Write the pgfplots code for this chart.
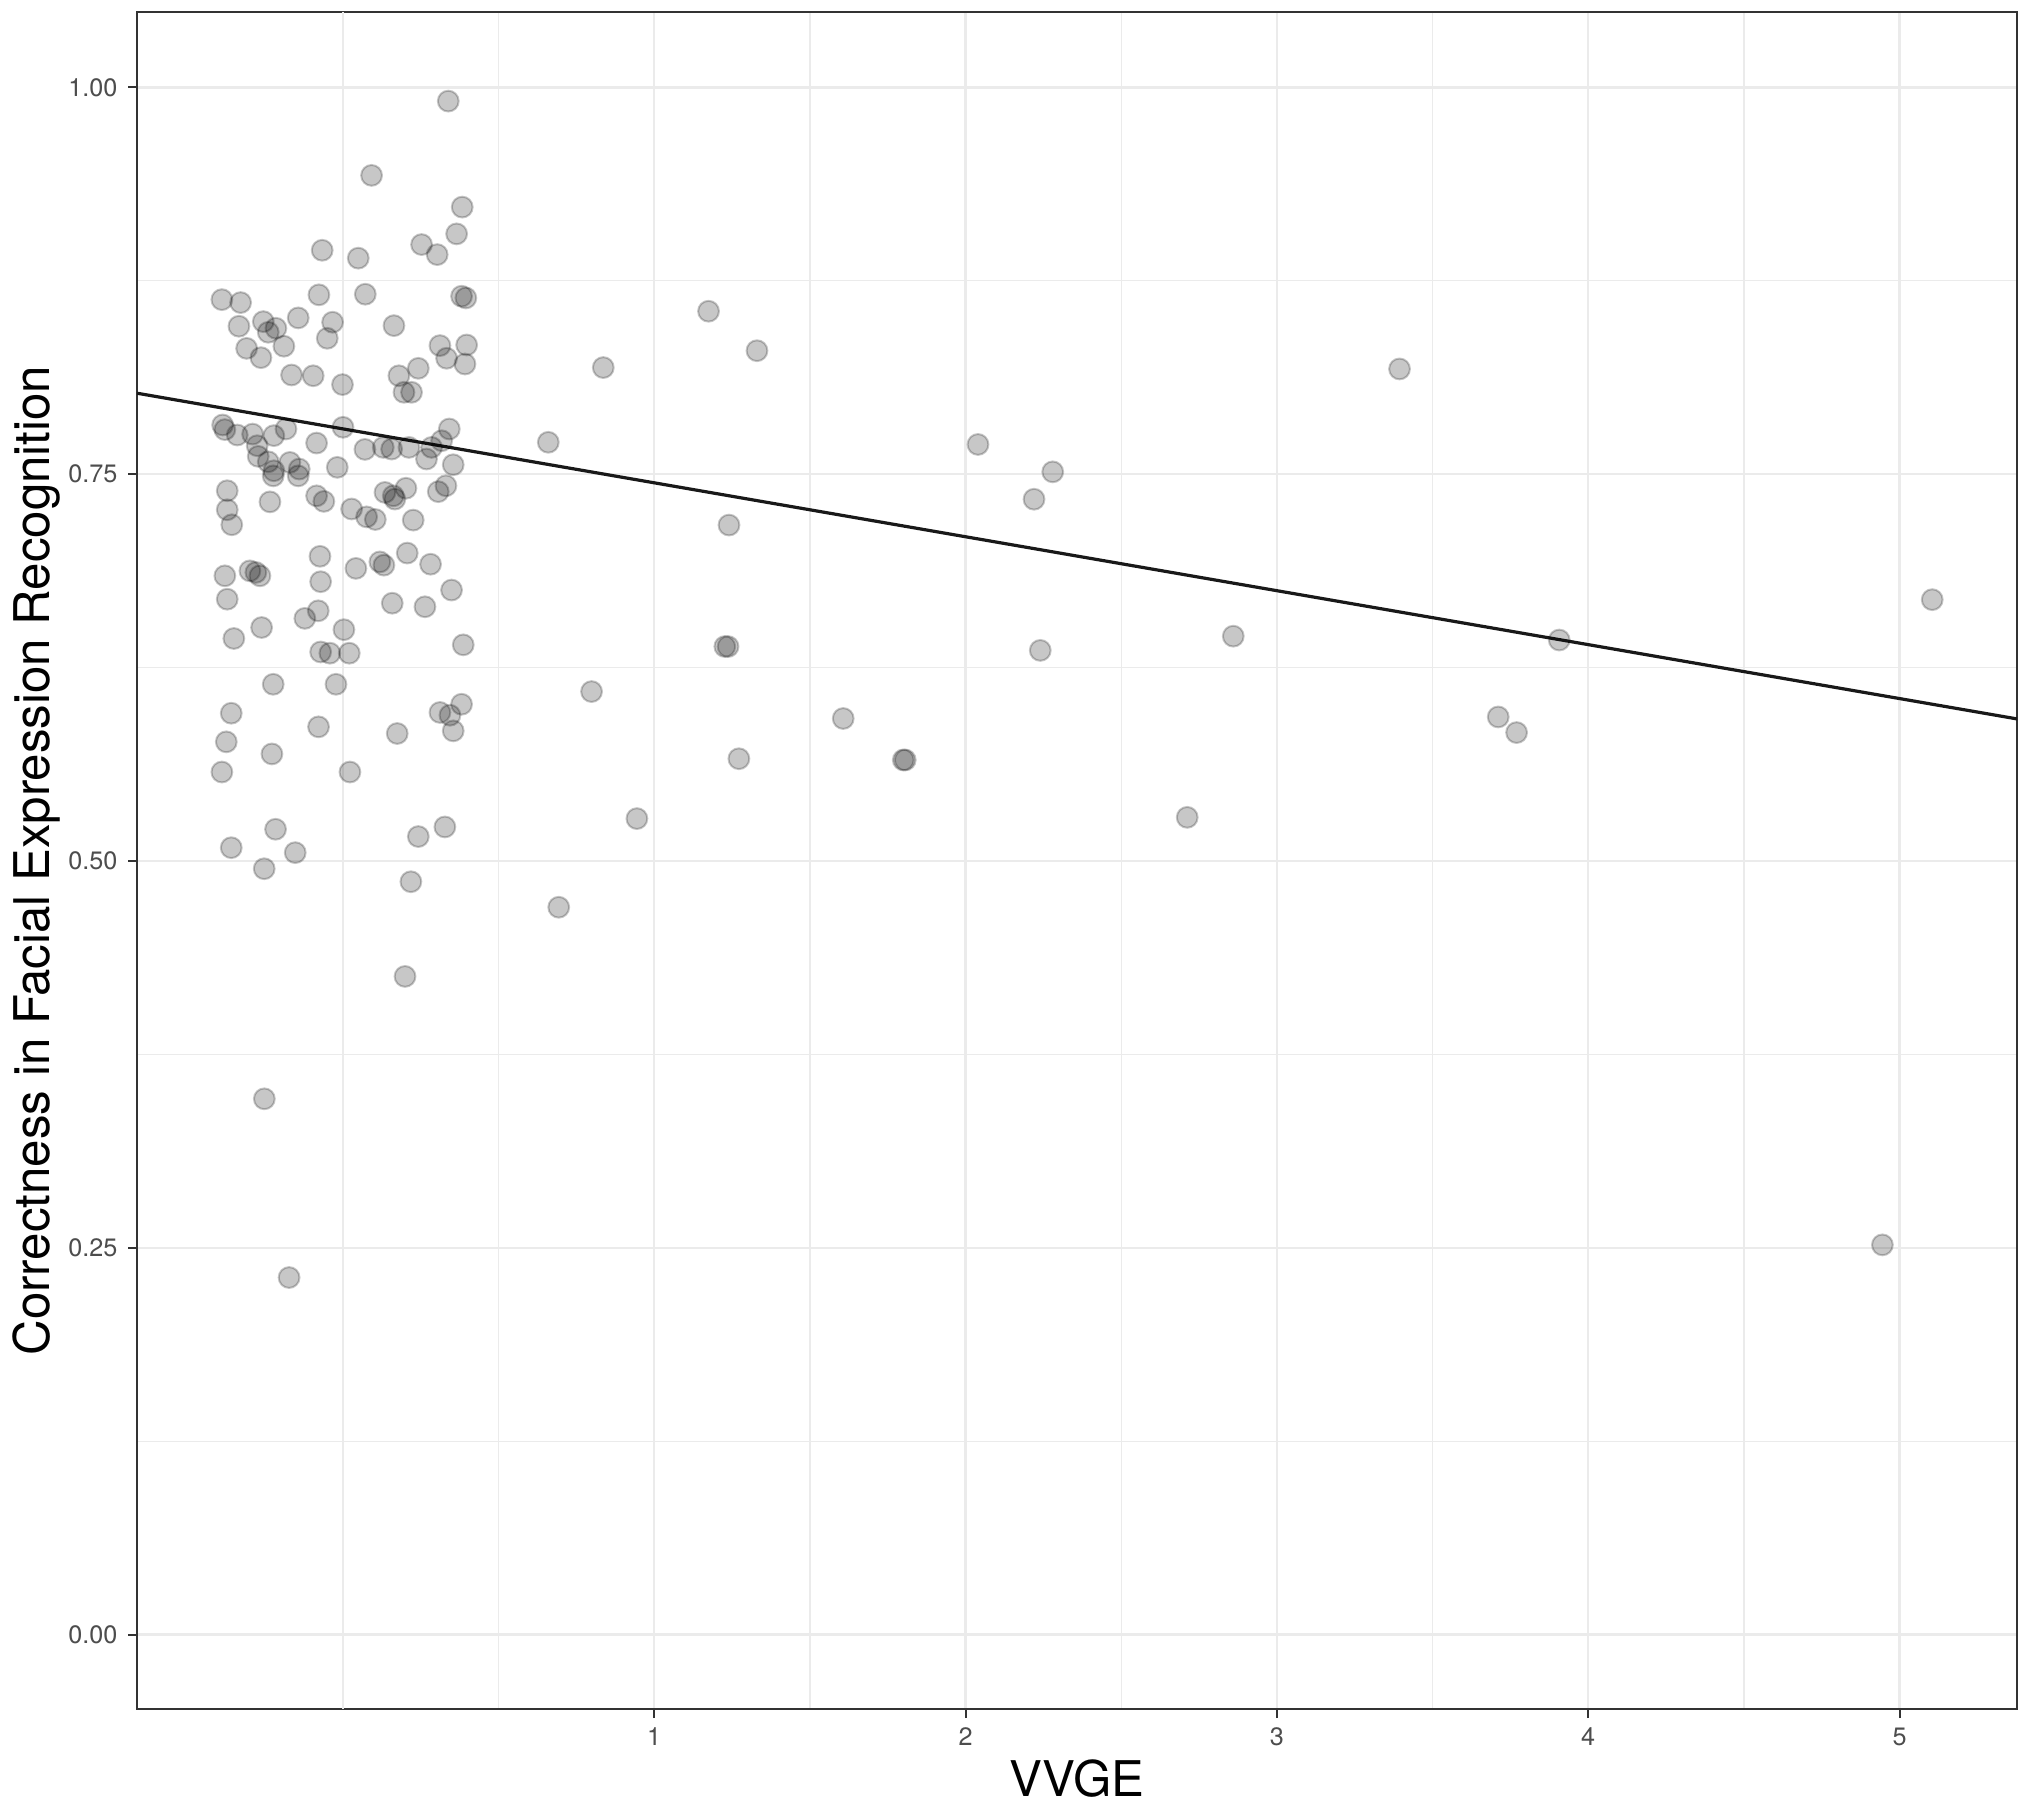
\documentclass[border=0pt]{standalone}
\usepackage{pgfplots}
\pgfplotsset{compat=1.18}
\usepackage{fontspec}
\setmainfont{TeX Gyre Heros}
\definecolor{grid92}{HTML}{EBEBEB}
\definecolor{grey30}{HTML}{4D4D4D}
\definecolor{grey20}{HTML}{333333}
\begin{document}
\begin{tikzpicture}
\path[use as bounding box] (-34.3pt,-25.2pt) rectangle (473.7pt,427.3pt);
\begin{axis}[
  at={(0pt,0pt)}, anchor=south west,
  scale only axis, width=470pt, height=424.3pt,
  xmin=-0.6607, xmax=5.378, ymin=-0.0482, ymax=1.0487,
  xtick={1,2,3,4,5}, xticklabels={1,2,3,4,5},
  minor xtick={0.5,1.5,2.5,3.5,4.5},
  extra x ticks={0}, extra x tick labels={},
  extra x tick style={grid=major, major tick length=0pt},
  ytick={0,0.25,0.5,0.75,1}, yticklabels={0.00,0.25,0.50,0.75,1.00},
  minor ytick={0.125,0.375,0.625,0.875},
  grid=both,
  major grid style={grid92, line width=0.6pt},
  minor grid style={grid92, line width=0.35pt},
  tick align=outside, xtick pos=lower, ytick pos=left,
  major tick length=2.25pt, minor tick length=0pt,
  every tick/.style={grey20, line width=0.5pt},
  axis line style={grey20, line width=0.5pt},
  tick label style={font=\fontsize{6.3}{7}\selectfont, text=grey30, inner sep=0pt},
  xticklabel style={anchor=north, yshift=-2.2pt},
  yticklabel style={anchor=east, xshift=-2.5pt},
  xlabel={VVGE},
  ylabel={Correctness in Facial Expression Recognition},
  label style={font=\fontsize{12.3}{14}\selectfont, text=black},
  xlabel style={at={(axis description cs:0.5,0)}, anchor=base, yshift=-21.7pt},
  ylabel style={at={(axis description cs:-0.04638,0.5)}, anchor=base},
]
\addplot[only marks, mark=*, mark size=2.6pt,
  mark options={draw=black, fill=black, draw opacity=0.22, fill opacity=0.22, line width=0.5pt}]
table[row sep=\\] {
x y \\
0.3385 0.9911 \\
0.0921 0.9431 \\
0.3833 0.9226 \\
0.3653 0.9053 \\
0.2527 0.8984 \\
-0.0665 0.8947 \\
0.3029 0.8919 \\
0.0494 0.8896 \\
-0.3887 0.8628 \\
-0.3285 0.8609 \\
-0.0770 0.8659 \\
0.0720 0.8663 \\
0.3812 0.8650 \\
0.3950 0.8639 \\
1.1745 0.8553 \\
-0.2556 0.8486 \\
-0.1435 0.8510 \\
-0.0331 0.8482 \\
-0.3339 0.8456 \\
-0.2151 0.8443 \\
-0.2397 0.8417 \\
0.1640 0.8460 \\
-0.0502 0.8378 \\
-0.3092 0.8313 \\
-0.1895 0.8327 \\
0.3117 0.8331 \\
0.3975 0.8335 \\
1.3301 0.8298 \\
-0.2632 0.8253 \\
0.3331 0.8249 \\
0.3921 0.8212 \\
0.8364 0.8189 \\
3.3940 0.8180 \\
-0.1649 0.8141 \\
-0.0954 0.8136 \\
0.2423 0.8184 \\
0.1799 0.8136 \\
-0.0013 0.8079 \\
0.1962 0.8029 \\
0.2205 0.8029 \\
-0.3862 0.7818 \\
-0.3791 0.7788 \\
-0.3393 0.7753 \\
-0.2900 0.7759 \\
-0.2218 0.7749 \\
-0.1828 0.7792 \\
0.0004 0.7803 \\
0.3418 0.7792 \\
-0.0845 0.7701 \\
0.6598 0.7706 \\
-0.2753 0.7684 \\
-0.2720 0.7615 \\
-0.2397 0.7580 \\
-0.1703 0.7576 \\
-0.2218 0.7522 \\
-0.2238 0.7489 \\
-0.1402 0.7533 \\
-0.1435 0.7489 \\
0.0707 0.7660 \\
0.1297 0.7673 \\
0.1565 0.7662 \\
0.2121 0.7673 \\
0.2686 0.7598 \\
0.2849 0.7673 \\
0.3172 0.7716 \\
-0.0180 0.7544 \\
0.3544 0.7561 \\
2.0400 0.7692 \\
2.2800 0.7515 \\
-0.3715 0.7393 \\
-0.0845 0.7360 \\
-0.0611 0.7324 \\
-0.2343 0.7321 \\
0.1619 0.7360 \\
0.1351 0.7382 \\
0.1669 0.7339 \\
0.2025 0.7409 \\
0.3063 0.7387 \\
0.3310 0.7425 \\
2.2200 0.7338 \\
-0.3715 0.7270 \\
0.0280 0.7275 \\
0.0762 0.7224 \\
0.1042 0.7207 \\
-0.3569 0.7173 \\
0.2259 0.7203 \\
1.2402 0.7171 \\
0.2067 0.6990 \\
-0.0736 0.6969 \\
0.1188 0.6933 \\
0.1318 0.6912 \\
0.0418 0.6891 \\
0.2816 0.6918 \\
-0.2987 0.6875 \\
-0.2795 0.6865 \\
-0.2665 0.6843 \\
-0.3791 0.6843 \\
-0.0715 0.6805 \\
0.3490 0.6751 \\
-0.3715 0.6692 \\
0.1586 0.6666 \\
0.2636 0.6643 \\
-0.0791 0.6617 \\
-0.1222 0.6568 \\
-0.2611 0.6509 \\
0.0033 0.6495 \\
-0.3502 0.6438 \\
0.3866 0.6397 \\
1.2268 0.6386 \\
1.2372 0.6386 \\
2.8600 0.6453 \\
3.9070 0.6428 \\
-0.0715 0.6351 \\
-0.0418 0.6343 \\
0.0205 0.6343 \\
2.2400 0.6361 \\
-0.2238 0.6142 \\
-0.0222 0.6142 \\
0.7987 0.6095 \\
-0.3586 0.5955 \\
0.3812 0.6013 \\
0.3117 0.5960 \\
0.3439 0.5942 \\
1.6071 0.5921 \\
3.7110 0.5931 \\
-0.0782 0.5867 \\
0.3544 0.5841 \\
0.1745 0.5824 \\
3.7700 0.5830 \\
-0.3745 0.5770 \\
-0.2280 0.5692 \\
1.2720 0.5661 \\
1.8000 0.5653 \\
1.8063 0.5653 \\
-0.3887 0.5575 \\
0.0226 0.5575 \\
0.9444 0.5274 \\
2.7120 0.5282 \\
-0.2163 0.5205 \\
0.3276 0.5220 \\
0.2423 0.5158 \\
-0.3586 0.5086 \\
-0.1531 0.5054 \\
-0.2527 0.4950 \\
0.2184 0.4866 \\
0.6933 0.4701 \\
0.1996 0.4254 \\
-0.2523 0.3463 \\
-0.1728 0.2308 \\
4.9450 0.2519 \\
5.1050 0.6689 \\
};
\addplot[black!90, line width=0.8pt] coordinates {(-0.6607,0.8023) (5.378,0.5918)};
\end{axis}
\end{tikzpicture}
\end{document}
